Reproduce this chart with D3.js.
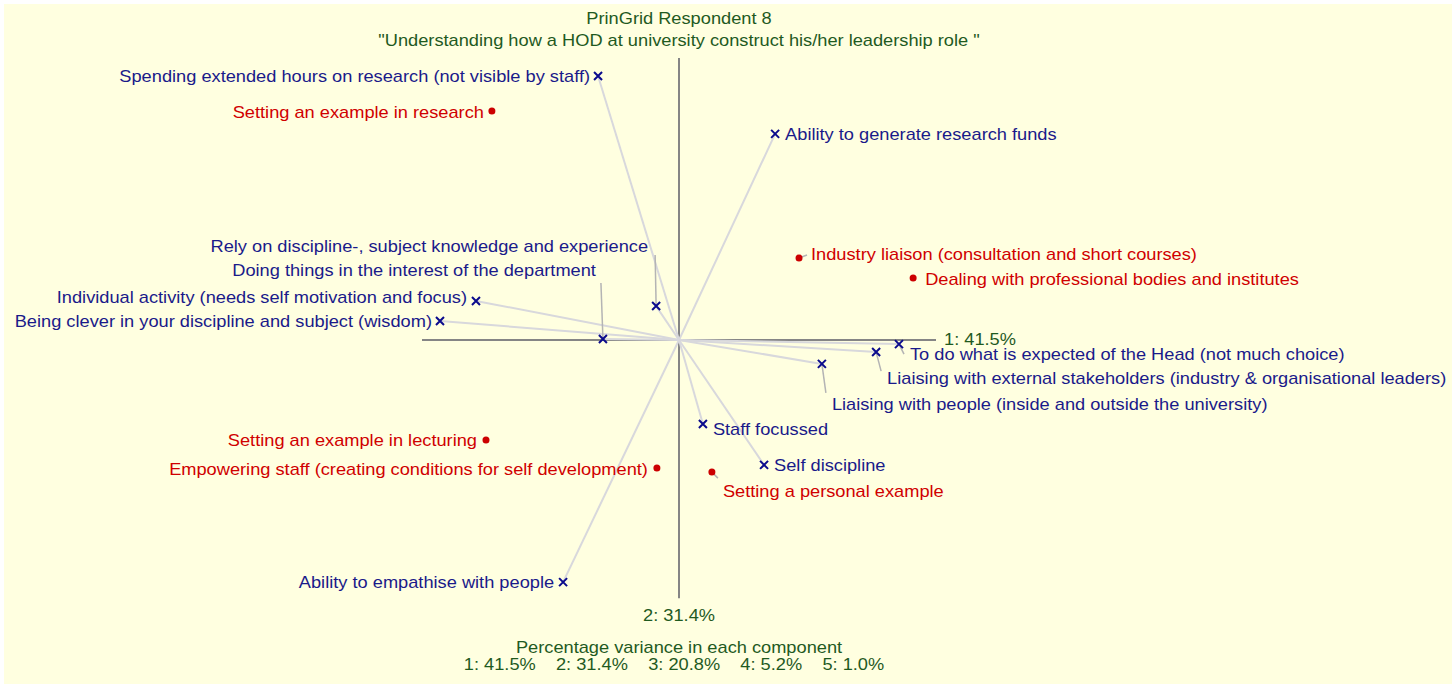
<!DOCTYPE html>
<html>
<head>
<meta charset="utf-8">
<script src="https://cdn.jsdelivr.net/npm/d3@7"></script>
<style>
  html, body { margin: 0; padding: 0; background: #ffffff; }
  svg { display: block; }
  text { font-family: Arial, "Liberation Sans", sans-serif; font-size: 16px; }
</style>
</head>
<body>
<svg id="chart" width="1452" height="684"></svg>
<script>
// タイトル
var titleLines = ["PrinGrid Respondent 8", "\"Understanding how a HOD at university construct his/her leadership role \""];
var varianceTitle = "Percentage variance in each component";
var componentNames = ["1", "2", "3", "4", "5"];
var componentVariance = [41.5, 31.4, 20.8, 5.2, 1.0];

// 構成概念 (component 1, component 2)
var constructNames = [
  "Spending extended hours on research (not visible by staff)",
  "Ability to generate research funds",
  "Rely on discipline-, subject knowledge and experience",
  "Doing things in the interest of the department",
  "Individual activity (needs self motivation and focus)",
  "Being clever in your discipline and subject (wisdom)",
  "To do what is expected of the Head (not much choice)",
  "Liaising with external stakeholders (industry & organisational leaders)",
  "Liaising with people (inside and outside the university)",
  "Staff focussed",
  "Self discipline",
  "Ability to empathise with people"
];
var constructPC1 = [-0.315, 0.374, -0.089, -0.296, -0.790, -0.930, 0.856, 0.767, 0.556, 0.093, 0.331, -0.451];
var constructPC2 = [1.027, 0.802, 0.132, 0.004, 0.152, 0.074, -0.016, -0.047, -0.093, -0.327, -0.486, -0.942];

// 要素
var elementNames = [
  "Setting an example in research",
  "Industry liaison (consultation and short courses)",
  "Dealing with professional bodies and institutes",
  "Setting an example in lecturing",
  "Empowering staff (creating conditions for self development)",
  "Setting a personal example"
];
var elementPC1 = [-0.728, 0.467, 0.911, -0.751, -0.086, 0.128];
var elementPC2 = [0.891, 0.319, 0.241, -0.389, -0.498, -0.514];

// 軸の範囲
var axis1Extent = [-1.0, 1.0];
var axis2Extent = [-1.005, 1.097];

// ラベル配置 [anchor, dx, dy, leaderDx, leaderDy]
var constructLabelLayout = [
  ["end", -8, 0],
  ["start", 10, 1],
  ["end", -8, -60, -1, -51],
  ["end", -7, -69, -2, -56],
  ["end", -9, -4],
  ["end", -8, 0],
  ["start", 11, 10, 5, 10],
  ["start", 11, 26, 5, 19],
  ["start", 10, 40, 4, 29],
  ["start", 10, 5],
  ["start", 10, 0],
  ["end", -9, 0]
];
var elementLabelLayout = [
  ["end", -8, 1],
  ["start", 12, -4, 8, -3],
  ["start", 12, 1],
  ["end", -9, 0],
  ["end", -9, 1],
  ["start", 11, 19, 6, 6]
];

var W = 1452, H = 684;
var origin = {x: 679, y: 340};
var unit = 257;
var stretch = 1.14; // 横に引き伸ばされた文字

var svg = d3.select("#chart");

svg.append("rect")
  .attr("x", 4).attr("y", 4)
  .attr("width", W - 4).attr("height", H - 4)
  .attr("fill", "#ffffe0");

var x = d3.scaleLinear().domain([-1, 1]).range([origin.x - unit, origin.x + unit]);
var y = d3.scaleLinear().domain([-1, 1]).range([origin.y + unit, origin.y - unit]);

var g = svg.append("g");

var constructs = constructNames.map(function(n, i){
  return {name: n, pc1: constructPC1[i], pc2: constructPC2[i], layout: constructLabelLayout[i]};
});
var elements = elementNames.map(function(n, i){
  return {name: n, pc1: elementPC1[i], pc2: elementPC2[i], layout: elementLabelLayout[i]};
});

function addText(parent, tx, ty, anchor, color, str){
  parent.append("g")
    .attr("transform", "translate(" + tx + "," + ty + ") scale(" + stretch + ",1)")
    .append("text")
    .attr("dy", "0.35em")
    .attr("text-anchor", anchor)
    .attr("fill", color)
    .attr("xml:space", "preserve")
    .style("white-space", "pre")
    .text(str);
}

// 軸
g.append("line")
  .attr("x1", x(axis1Extent[0])).attr("x2", x(axis1Extent[1]))
  .attr("y1", y(0)).attr("y2", y(0))
  .attr("stroke", "#858585").attr("stroke-width", 2);
g.append("line")
  .attr("x1", x(0)).attr("x2", x(0))
  .attr("y1", y(axis2Extent[0])).attr("y2", y(axis2Extent[1]))
  .attr("stroke", "#858585").attr("stroke-width", 2);

// 構成概念の線
g.selectAll(".construct-line")
  .data(constructs)
  .enter().append("line")
  .attr("class", "construct-line")
  .attr("x1", x(0)).attr("y1", y(0))
  .attr("x2", function(d){ return x(d.pc1); })
  .attr("y2", function(d){ return y(d.pc2); })
  .attr("stroke", "#d8d8dc")
  .attr("stroke-width", 2);

// 引き出し線
function drawLeaders(data){
  g.selectAll(null)
    .data(data.filter(function(d){ return d.layout.length > 3; }))
    .enter().append("line")
    .attr("x1", function(d){ return x(d.pc1); })
    .attr("y1", function(d){ return y(d.pc2); })
    .attr("x2", function(d){ return x(d.pc1) + d.layout[3]; })
    .attr("y2", function(d){ return y(d.pc2) + d.layout[4]; })
    .attr("stroke", "#b4b4b4")
    .attr("stroke-width", 1.5);
}
drawLeaders(constructs);
drawLeaders(elements);

// ×マーク
var cross = g.selectAll(".construct")
  .data(constructs)
  .enter().append("g")
  .attr("class", "construct")
  .attr("transform", function(d){ return "translate(" + x(d.pc1) + "," + y(d.pc2) + ")"; });
cross.append("path")
  .attr("d", "M-4,-4L4,4M-4,4L4,-4")
  .attr("stroke", "#0a0a8c")
  .attr("stroke-width", 2);
cross.each(function(d){
  addText(d3.select(this), d.layout[1], d.layout[2], d.layout[0], "#1a1a8a", d.name);
});

// 要素の点
var dot = g.selectAll(".element")
  .data(elements)
  .enter().append("g")
  .attr("class", "element")
  .attr("transform", function(d){ return "translate(" + x(d.pc1) + "," + y(d.pc2) + ")"; });
dot.append("circle")
  .attr("r", 3.5)
  .attr("fill", "#cc0000");
dot.each(function(d){
  addText(d3.select(this), d.layout[1], d.layout[2], d.layout[0], "#d00000", d.name);
});

// 軸ラベル・タイトル
var green = "#1f5a1f";
addText(g, x(axis1Extent[1]) + 8, y(0) - 1, "start", green,
  componentNames[0] + ": " + componentVariance[0].toFixed(1) + "%");
addText(g, x(0), y(axis2Extent[0]) + 17, "middle", green,
  componentNames[1] + ": " + componentVariance[1].toFixed(1) + "%");

titleLines.forEach(function(t, i){
  addText(svg, origin.x, 18 + i * 22, "middle", green, t);
});

addText(svg, origin.x, 647, "middle", green, varianceTitle);
addText(svg, origin.x - 5, 664, "middle", green,
  componentNames.map(function(c, i){ return c + ": " + componentVariance[i].toFixed(1) + "%"; }).join("    "));
</script>
</body>
</html>
